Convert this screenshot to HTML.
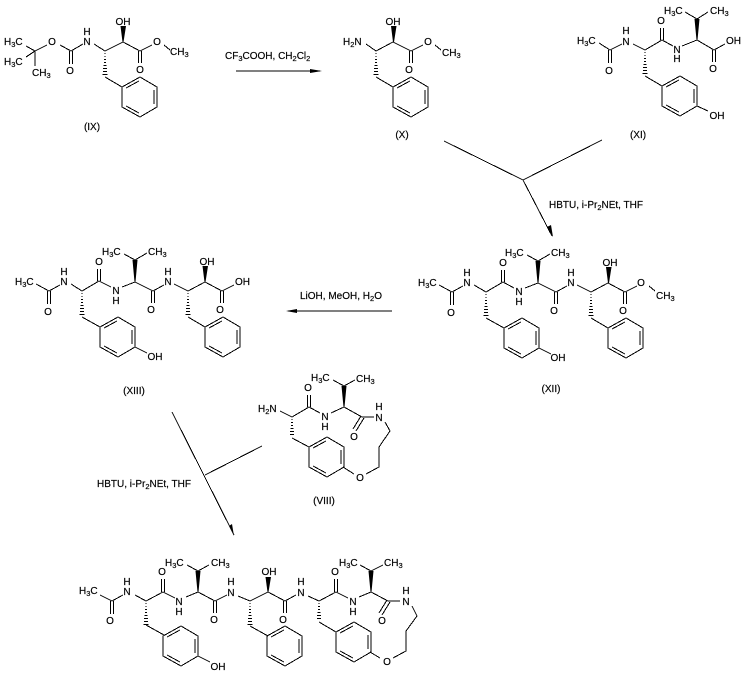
<!DOCTYPE html>
<html><head><meta charset="utf-8"><style>
html,body{margin:0;padding:0;background:#fff}
svg{display:block}
text{font-family:"Liberation Sans",sans-serif;font-size:10px;fill:#000;stroke:#000;stroke-width:.18}
.c{text-anchor:middle}
.s{font-size:7.5px}
.l{fill:none;stroke:#000;stroke-width:1;shape-rendering:crispEdges}
.h{stroke:#000;stroke-width:1;shape-rendering:crispEdges}
</style></head><body>
<svg width="747" height="678" viewBox="0 0 747 678" xmlns="http://www.w3.org/2000/svg">
<defs>
<g id="ring" class="l"><path d="M0 0L18-10L35 0V20L18 30L0 20Z M4 1L17-6 M32 3V17 M4 19L17 26"/></g>
<g id="hash26" class="h"><path d="M-.5 2.500h1M-.7 5.500h1.400M-1 8.500h2M-1.200 11.500h2.400M-1.500 14.500h3M-1.800 17.500h3.600M-2 20.500h4M-2.300 23.500h4.600"/></g>
<g id="hash21" class="h"><path d="M-.5 2.500h1M-.8 5.500h1.600M-1.100 8.500h2.200M-1.500 11.500h3M-1.800 14.500h3.600M-2.200 17.500h4.400"/></g>
</defs>

<!-- IX -->
<g class="l">
<path d="M26 46L35 51M26 57L35 51M35 51V66M35 51L47 45M60 45L71 51L83 44M69.500 51V64M72.500 51V64M94 44L105 51L123 42L140 51L152 45M138.500 51V63M141.500 51V63M164 45L170 50M105 77L122 87"/>
</g>
<use href="#ring" x="122" y="87"/><use href="#hash26" x="105" y="51"/>
<polygon points="122.500,42 123.500,42 126,26 120.500,26"/>
<text x="4" y="45">H<tspan class="s" dy="2">3</tspan><tspan dy="-2">C</tspan></text>
<text x="4" y="65">H<tspan class="s" dy="2">3</tspan><tspan dy="-2">C</tspan></text>
<text x="32" y="76">CH<tspan class="s" dy="2">3</tspan></text>
<text class="c" x="52" y="45">O</text><text class="c" x="70" y="74">O</text>
<text class="c" x="87" y="45">N</text><text class="c" x="87" y="35">H</text>
<text class="c" x="123" y="25">OH</text><text class="c" x="140" y="73">O</text><text class="c" x="157" y="45">O</text>
<text x="170" y="55">CH<tspan class="s" dy="2">3</tspan></text>
<text class="c" x="92" y="130">(IX)</text>

<!-- arrow 1 -->
<path class="l" d="M236 71H320"/><polygon points="310,69 322,71 310,73"/>
<text x="225" y="59">CF<tspan class="s" dy="2">3</tspan><tspan dy="-2">COOH, CH</tspan><tspan class="s" dy="2">2</tspan><tspan dy="-2">Cl</tspan><tspan class="s" dy="2">2</tspan></text>

<!-- X -->
<g class="l"><path d="M366 44L376 51L393 42L411 51L423 45M409.500 51V63M412.500 51V63M435 45L441 50M376 77L393 87"/></g>
<use href="#ring" x="393" y="87"/><use href="#hash26" x="376" y="51"/>
<polygon points="393,42 394,42 396.500,26 391,26"/>
<text x="343" y="45">H<tspan class="s" dy="2">2</tspan><tspan dy="-2">N</tspan></text>
<text class="c" x="393" y="25">OH</text><text class="c" x="409" y="73">O</text><text class="c" x="428" y="45">O</text>
<text x="442" y="56">CH<tspan class="s" dy="2">3</tspan></text>
<text class="c" x="402" y="138">(X)</text>

<!-- XI -->
<g class="l"><path d="M599 43L610 50L622 44M608.500 50V63M611.500 50V63M633 44L645 50L662 40L673 46M660.500 40V28M663.500 40V28M682 46L697 40L714 50L725 44M712.500 50V62M715.500 50V62M697 19L685 12M697 19L708 12M645 76L662 86M697 106L708 111"/></g>
<use href="#ring" x="662" y="86"/><use href="#hash26" x="645" y="50"/>
<polygon points="696.500,40 697.500,40 699.500,19 694.500,19"/>
<text x="577" y="44">H<tspan class="s" dy="2">3</tspan><tspan dy="-2">C</tspan></text>
<text class="c" x="609" y="74">O</text><text class="c" x="626" y="45">N</text><text class="c" x="626" y="34">H</text>
<text class="c" x="661" y="24">O</text><text class="c" x="677" y="53">N</text><text class="c" x="677" y="62">H</text>
<text x="664" y="14">H<tspan class="s" dy="2">3</tspan><tspan dy="-2">C</tspan></text><text x="710" y="14">CH<tspan class="s" dy="2">3</tspan></text>
<text class="c" x="713" y="72">O</text><text x="726" y="44">OH</text><text class="c" x="717" y="119">OH</text>
<text class="c" x="638" y="138">(XI)</text>

<!-- Y join -->
<path class="l" d="M444 141L523 180L602 140M523 180L552 236"/>
<polygon points="547,227 553,237 551,225"/>
<text x="549" y="208">HBTU, i-Pr<tspan class="s" dy="2">2</tspan><tspan dy="-2">NEt, THF</tspan></text>

<!-- XII -->
<g class="l"><path d="M439 285L452 292L463 286M450.500 292V305M453.500 292V305M474 285L486 292L503 282L514 288M501.500 282V270M504.500 282V270M525 288L538 283L556 292L567 286M554.500 292V304M557.500 292V304M577 285L591 292L608 283L625 292L637 286M623.500 292V304M626.500 292V304M649 286L655 291M538 261L527 255M538 261L550 254M486 318L504 328M539 348L551 354M591 318L608 328"/></g>
<use href="#ring" x="504" y="328"/><use href="#ring" x="608" y="328"/>
<use href="#hash26" x="486" y="292"/><use href="#hash26" x="591" y="292"/>
<polygon points="537.500,283 538.500,283 540.500,261 535.500,261"/>
<polygon points="608,283 609,283 611.500,267 606,267"/>
<text x="418" y="286">H<tspan class="s" dy="2">3</tspan><tspan dy="-2">C</tspan></text>
<text class="c" x="451" y="316">O</text><text class="c" x="467" y="286">N</text><text class="c" x="467" y="276">H</text>
<text class="c" x="503" y="266">O</text><text class="c" x="519" y="295">N</text><text class="c" x="519" y="305">H</text>
<text x="505" y="256">H<tspan class="s" dy="2">3</tspan><tspan dy="-2">C</tspan></text><text x="551" y="256">CH<tspan class="s" dy="2">3</tspan></text>
<text class="c" x="554" y="314">O</text><text class="c" x="571" y="286">N</text><text class="c" x="571" y="276">H</text>
<text class="c" x="610" y="266">OH</text><text class="c" x="623" y="314">O</text><text class="c" x="641" y="286">O</text>
<text x="656" y="299">CH<tspan class="s" dy="2">3</tspan></text><text class="c" x="558" y="361">OH</text>
<text class="c" x="551" y="392">(XII)</text>

<!-- arrow LiOH -->
<path class="l" d="M392 311H288"/><polygon points="297,309 286,311 297,313"/>
<text x="300" y="299">LiOH, MeOH, H<tspan class="s" dy="2">2</tspan><tspan dy="-2">O</tspan></text>

<!-- XIII -->
<g class="l"><path d="M36 284L49 291L60 285M47.500 291V304M50.500 291V304M71 284L82 291L99 281L111 287M97.500 281V269M100.500 281V269M122 287L135 282L153 291L164 285M151.500 291V303M154.500 291V303M174 284L188 291L205 282L222 291L234 285M220.500 291V303M223.500 291V303M135 260L124 254M135 260L147 253M82 317L100 327M135 347L147 353M188 317L205 327"/></g>
<use href="#ring" x="100" y="327"/><use href="#ring" x="205" y="327"/>
<use href="#hash26" x="82" y="291"/><use href="#hash26" x="188" y="291"/>
<polygon points="134.500,282 135.500,282 137.500,260 132.500,260"/>
<polygon points="204.500,282 205.500,282 208,266 202.500,266"/>
<text x="15" y="285">H<tspan class="s" dy="2">3</tspan><tspan dy="-2">C</tspan></text>
<text class="c" x="48" y="315">O</text><text class="c" x="64" y="285">N</text><text class="c" x="64" y="275">H</text>
<text class="c" x="99" y="265">O</text><text class="c" x="116" y="294">N</text><text class="c" x="116" y="304">H</text>
<text x="102" y="255">H<tspan class="s" dy="2">3</tspan><tspan dy="-2">C</tspan></text><text x="148" y="255">CH<tspan class="s" dy="2">3</tspan></text>
<text class="c" x="151" y="313">O</text><text class="c" x="168" y="285">N</text><text class="c" x="168" y="275">H</text>
<text class="c" x="207" y="265">OH</text><text class="c" x="220" y="313">O</text><text x="235" y="285">OH</text>
<text class="c" x="155" y="360">OH</text>
<text class="c" x="134" y="394">(XIII)</text>

<!-- VIII -->
<g class="l"><path d="M280 411L292 417L309 407L320 413M307.500 407V395M310.500 407V395M331 413L344 407L362 417L374 417M344 386L333 380M344 386L355 380M361 416L353 429M364 418L356 431M385 422L390 431L379 447V467L366 474M354 474L343 467M292 438L309 447"/></g>
<use href="#ring" x="309" y="447"/><use href="#hash21" x="292" y="417"/>
<polygon points="343.500,407 344.500,407 346.500,386 341.500,386"/>
<text x="258" y="412">H<tspan class="s" dy="2">2</tspan><tspan dy="-2">N</tspan></text>
<text class="c" x="308" y="391">O</text><text class="c" x="325" y="420">N</text><text class="c" x="325" y="430">H</text>
<text x="311" y="381">H<tspan class="s" dy="2">3</tspan><tspan dy="-2">C</tspan></text><text x="356" y="382">CH<tspan class="s" dy="2">3</tspan></text>
<text class="c" x="354" y="440">O</text><text class="c" x="379" y="421">N</text><text class="c" x="379" y="410">H</text>
<text class="c" x="360" y="481">O</text>
<text class="c" x="324" y="504">(VIII)</text>

<!-- Y join 2 -->
<path class="l" d="M172 412L234 535M262 446L205 475"/>
<polygon points="229,526 234,536 232,524"/>
<text x="97" y="487">HBTU, i-Pr<tspan class="s" dy="2">2</tspan><tspan dy="-2">NEt, THF</tspan></text>

<!-- Product -->
<g class="l"><path d="M100 595L112 601L123 595M110.500 601V614M113.500 601V614M135 595L146 601L163 592L175 598M161.500 592V579M164.500 592V579M186 597L198 592L215 601L227 595M213.500 601V613M216.500 601V613M238 596L250 601L268 592L285 601L296 595M283.500 601V613M286.500 601V613M308 596L319 601L336 592L348 598M334.500 592V579M337.500 592V579M359 597L371 592L388 601H400M387 600L379 613M390 602L382 615M198 571L187 565M198 571L209 565M371 571L360 565M371 571L383 565M146 625L164 635M198 656L210 662M250 626L268 636M412 606L417 616L406 631V651L393 658M380 658L370 652M319 622L336 632"/></g>
<use href="#ring" x="163" y="636"/><use href="#ring" x="267" y="636"/><use href="#ring" x="336" y="632"/>
<use href="#hash26" x="146" y="601"/><use href="#hash26" x="250" y="601"/><use href="#hash21" x="319" y="601"/>
<polygon points="197.500,592 198.500,592 200.500,571 195.500,571"/>
<polygon points="267.500,592 268.500,592 271,577 265.500,577"/>
<polygon points="370.500,592 371.500,592 373.500,571 368.500,571"/>
<text x="79" y="594">H<tspan class="s" dy="2">3</tspan><tspan dy="-2">C</tspan></text>
<text class="c" x="110" y="624">O</text><text class="c" x="127" y="595">N</text><text class="c" x="127" y="585">H</text>
<text class="c" x="162" y="575">O</text><text class="c" x="179" y="605">N</text><text class="c" x="179" y="615">H</text>
<text x="165" y="566">H<tspan class="s" dy="2">3</tspan><tspan dy="-2">C</tspan></text><text x="211" y="566">CH<tspan class="s" dy="2">3</tspan></text>
<text class="c" x="214" y="623">O</text><text class="c" x="231" y="596">N</text><text class="c" x="231" y="585">H</text>
<text class="c" x="269" y="575">OH</text><text class="c" x="283" y="623">O</text>
<text class="c" x="301" y="596">N</text><text class="c" x="301" y="585">H</text>
<text class="c" x="218" y="670">OH</text>
<text class="c" x="335" y="575">O</text><text class="c" x="353" y="605">N</text><text class="c" x="353" y="615">H</text>
<text x="339" y="566">H<tspan class="s" dy="2">3</tspan><tspan dy="-2">C</tspan></text><text x="384" y="566">CH<tspan class="s" dy="2">3</tspan></text>
<text class="c" x="382" y="624">O</text><text class="c" x="406" y="605">N</text><text class="c" x="406" y="594">H</text>
<text class="c" x="387" y="665">O</text>
</svg>
</body></html>
